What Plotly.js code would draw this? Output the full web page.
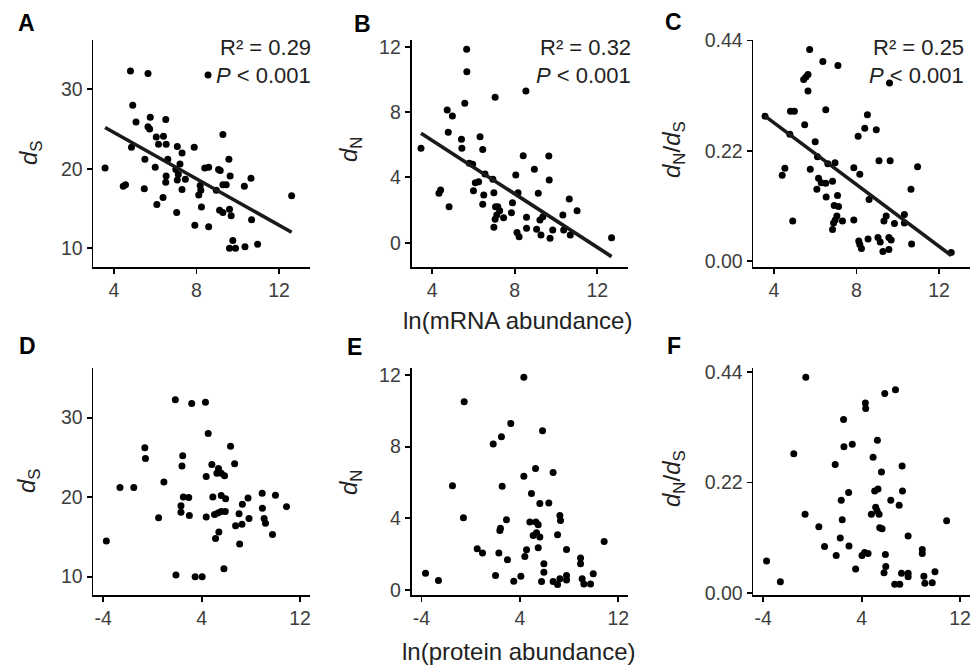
<!DOCTYPE html>
<html>
<head>
<meta charset="utf-8">
<script src="https://cdn.plot.ly/plotly-3.0.1.min.js"></script>
<style>html,body{margin:0;padding:0;background:#fff;}#chart{width:976px;height:669px;}</style>
</head>
<body>
<div id="chart"></div>
<script>
// ---- Panel A: ln(mRNA abundance) vs dS ----
const aX = [4.8,5.65,8.56,4.91,5.07,5.76,6.51,5.65,5.73,4.85,6.05,6.4,6.16,6.53,7.07,7.3,7.89,9.28,3.57,5.5,6.0,6.61,7.2,7.0,6.53,6.51,7.07,7.46,7.3,7.12,4.45,4.56,5.47,6.08,6.38,7.04,8.4,8.59,8.18,8.21,8.11,8.24,7.92,8.59,9.07,9.15,8.96,9.28,9.44,9.57,9.63,9.12,9.28,9.6,9.68,10.32,10.64,10.67,9.76,9.6,9.89,10.35,10.96,12.61];
const aY = [32.3,32.0,31.8,28.0,25.9,26.5,26.2,25.3,25.0,22.7,24.0,24.1,23.1,23.1,22.8,22.0,22.7,24.3,20.1,21.2,20.2,21.2,20.6,19.9,19.1,18.3,18.6,18.7,17.4,19.3,17.8,18.0,17.5,15.5,16.4,14.5,20.1,20.2,17.9,17.3,16.7,15.2,12.9,12.7,19.9,19.8,17.3,18.0,18.0,21.2,19.1,14.8,14.5,14.9,14.1,17.8,18.8,13.6,11.0,10.0,10.0,10.2,10.5,16.6];

// ---- Panel B: ln(mRNA abundance) vs dN ----
const bX = [3.46,5.67,5.68,5.58,7.05,8.54,4.73,4.98,4.78,5.42,5.44,6.32,6.45,5.8,5.96,6.09,6.25,6.0,6.5,6.45,6.56,4.33,4.41,4.82,6.94,6.99,7.07,7.18,7.27,7.13,7.05,7.46,6.99,7.89,7.84,8.05,8.16,8.41,8.11,8.21,8.57,8.57,8.95,9.14,9.65,9.67,9.06,9.22,9.36,9.27,9.71,9.84,10.37,10.33,10.69,10.64,11.02,12.69];
const bY = [5.78,11.84,10.47,8.53,8.9,9.29,8.12,7.76,6.76,6.33,5.78,6.49,5.71,4.86,4.8,3.67,3.73,3.18,2.92,2.35,4.2,3.02,3.22,2.2,3.88,3.06,2.2,2.2,1.96,1.7,1.43,1.53,0.94,2.45,1.84,4.14,3.06,5.33,0.63,0.37,1.55,0.88,4.49,3.02,5.31,3.84,0.82,1.39,1.59,0.47,0.27,0.78,0.78,1.7,0.47,2.67,1.96,0.31];

// ---- Panel C: ln(mRNA abundance) vs dN/dS ----
const cX = [5.73,6.37,7.1,5.65,5.55,5.44,5.65,9.6,4.8,4.99,3.57,6.51,5.49,4.77,6.0,8.53,8.4,8.08,8.96,4.53,4.4,5.76,6.11,6.61,6.96,7.87,8.16,9.09,9.63,10.96,6.16,6.29,6.51,6.08,6.53,6.84,7.08,6.92,7.13,7.05,6.97,7.32,6.89,6.84,7.87,4.91,8.61,9.44,9.33,9.84,10.32,10.32,10.64,8.11,8.16,8.24,8.56,9.04,9.15,9.57,9.68,9.28,9.57,10.67,12.59];
const cY = [0.422,0.398,0.39,0.372,0.367,0.362,0.339,0.355,0.299,0.299,0.289,0.302,0.272,0.253,0.238,0.292,0.265,0.249,0.262,0.185,0.171,0.183,0.208,0.194,0.196,0.186,0.173,0.2,0.2,0.188,0.165,0.156,0.155,0.143,0.128,0.159,0.131,0.111,0.109,0.09,0.082,0.08,0.076,0.063,0.082,0.08,0.123,0.09,0.08,0.075,0.093,0.076,0.143,0.04,0.033,0.025,0.044,0.047,0.038,0.047,0.042,0.019,0.023,0.034,0.017];

// ---- Panel D: ln(protein abundance) vs dS ----
const dX = [-3.75,-2.64,-1.52,-0.62,-0.57,0.93,0.5,1.86,3.19,4.31,4.53,2.46,2.4,2.51,2.95,2.32,2.32,3.0,1.91,3.47,4.04,4.37,4.83,5.37,5.59,5.86,5.24,6.35,6.68,4.91,5.59,5.95,4.37,5.05,5.32,5.59,5.92,5.4,5.13,5.81,6.76,7.28,7.04,7.31,7.77,7.85,7.09,8.92,8.94,9.08,9.19,10.0,9.76,10.9];
const dY = [14.48,21.2,21.2,26.2,24.85,21.9,17.4,32.26,31.76,31.92,28.0,25.2,23.9,20.0,19.96,18.9,18.1,17.7,10.2,10.0,10.0,22.6,24.1,23.6,23.0,22.7,23.0,26.4,24.2,20.0,20.2,19.8,17.5,17.8,18.0,18.2,18.2,15.6,14.8,11.0,16.4,16.6,17.9,19.1,19.9,17.3,14.1,20.5,18.6,17.3,16.7,20.25,15.3,18.8];

// ---- Panel E: ln(protein abundance) vs dN ----
const eX = [-3.67,-2.62,-1.48,-0.53,-0.59,0.53,0.96,1.83,2.5,3.26,2.56,2.37,2.42,2.29,2.02,2.91,2.99,3.5,4.08,4.32,4.32,4.54,4.4,5.27,4.94,4.81,5.3,5.49,5.08,5.35,5.62,5.49,5.62,5.84,6.35,5.95,5.95,5.76,6.7,7.06,7.25,7.3,7.79,6.7,7.06,7.25,7.79,7.79,8.93,8.93,9.06,9.2,9.74,9.96,10.85];
const eY = [0.94,0.53,5.81,10.51,4.03,2.3,2.06,8.14,8.55,9.29,5.79,3.32,3.45,2.07,0.81,3.92,1.68,0.49,0.77,11.87,6.35,2.24,1.87,6.78,5.38,3.79,3.79,3.64,3.04,3.19,2.95,2.35,4.82,8.88,4.85,1.46,0.99,0.47,6.55,3.08,4.16,3.88,2.26,0.47,0.3,0.62,0.81,0.56,1.79,1.46,0.62,0.34,0.34,0.9,2.71];

// ---- Panel F: ln(protein abundance) vs dN/dS ----
const fX = [-3.73,-2.61,-1.52,-0.54,-0.6,0.52,0.98,1.85,1.93,2.53,2.56,3.24,2.34,2.94,2.42,2.26,2.97,3.51,4.3,4.33,4.03,4.24,4.52,4.93,5.28,5.06,5.33,5.14,5.25,4.79,5.42,5.47,5.66,5.61,5.88,6.75,5.93,5.96,5.82,6.37,7.05,7.29,7.32,6.69,7.1,7.24,7.78,7.78,7.78,8.93,8.93,9.06,9.14,9.74,9.96,10.91];
const fY = [0.064,0.023,0.277,0.429,0.157,0.132,0.093,0.256,0.075,0.345,0.291,0.296,0.185,0.2,0.146,0.11,0.094,0.048,0.378,0.367,0.075,0.081,0.079,0.27,0.304,0.203,0.207,0.171,0.164,0.157,0.157,0.13,0.128,0.241,0.397,0.404,0.077,0.053,0.041,0.185,0.175,0.253,0.203,0.018,0.018,0.04,0.04,0.033,0.114,0.087,0.079,0.034,0.02,0.021,0.043,0.144];

// ---- Linear fits (panels A, B, C) ----
const fitSlope = [-1.457, -0.819, -0.03081];
const fitIntercept = [30.40, 9.54, 0.399];

// ---- Text ----
const panelLetters = ['A','B','C','D','E','F'];
const r2Labels = ['R\u00B2 = 0.29', 'R\u00B2 = 0.32', 'R\u00B2 = 0.25'];
const pLabels = ['<i>P</i> < 0.001', '<i>P</i> < 0.001', '<i>P</i> < 0.001'];
const yTitles = ['<i>d</i><sub>S</sub>', '<i>d</i><sub>N</sub>', '<i>d</i><sub>N</sub>/<i>d</i><sub>S</sub>'];
const xTitleTop = 'ln(mRNA abundance)';
const xTitleBottom = 'ln(protein abundance)';
const xTicksTop = [4, 8, 12];
const xTicksBottom = [-4, 4, 12];
const dsTicks = [10, 20, 30];
const dnTicks = [0, 4, 8, 12];
const ratioTicks = [0, 0.22, 0.44];
const ratioTickText = ['0.00', '0.22', '0.44'];

// ---- Layout geometry (pixels) ----
const W = 976, H = 669;
const px = v => v / W;
const py = v => 1 - v / H;
const cols = [[93.3, 310], [411.5, 628.3], [753.3, 970]];
const rows = [[40, 266.7], [368.3, 595]];

const FONT = 'Liberation Sans, Arial, sans-serif';
const tickFont = {family: FONT, size: 19.5, color: '#3d3d3d'};

const panels = [
  {x: aX, y: aY, row: 0, col: 0, xr: [3.0, 13.5], yr: [7.69, 36.2], yt: dsTicks, ytt: null, xt: xTicksTop, fit: 0},
  {x: bX, y: bY, row: 0, col: 1, xr: [3.0, 13.5], yr: [-1.47, 12.41], yt: dnTicks, ytt: null, xt: xTicksTop, fit: 1},
  {x: cX, y: cY, row: 0, col: 2, xr: [3.0, 13.5], yr: [-0.0113, 0.441], yt: ratioTicks, ytt: ratioTickText, xt: xTicksTop, fit: 2},
  {x: dX, y: dY, row: 1, col: 0, xr: [-4.81, 12.81], yr: [7.69, 36.2], yt: dsTicks, ytt: null, xt: xTicksBottom, fit: -1},
  {x: eX, y: eY, row: 1, col: 1, xr: [-4.81, 12.81], yr: [-0.28, 12.37], yt: dnTicks, ytt: null, xt: xTicksBottom, fit: -1},
  {x: fX, y: fY, row: 1, col: 2, xr: [-4.81, 12.81], yr: [-0.0034, 0.4468], yt: ratioTicks, ytt: ratioTickText, xt: xTicksBottom, fit: -1}
];

const traces = [];
const layout = {
  width: W, height: H,
  margin: {l: 0, r: 0, t: 0, b: 0, pad: 0},
  paper_bgcolor: '#fff', plot_bgcolor: '#fff',
  showlegend: false,
  font: {family: FONT, color: '#000'},
  annotations: []
};

panels.forEach((p, i) => {
  const n = i + 1;
  const xa = n === 1 ? 'x' : 'x' + n;
  const ya = n === 1 ? 'y' : 'y' + n;
  traces.push({
    type: 'scatter', mode: 'markers', x: p.x, y: p.y,
    xaxis: xa, yaxis: ya,
    marker: {color: '#000', size: 7, line: {width: 0}},
    hoverinfo: 'skip', cliponaxis: false
  });
  if (p.fit >= 0) {
    const xmin = Math.min(...p.x), xmax = Math.max(...p.x);
    const s = fitSlope[p.fit], b = fitIntercept[p.fit];
    traces.push({
      type: 'scatter', mode: 'lines', x: [xmin, xmax], y: [b + s * xmin, b + s * xmax],
      xaxis: xa, yaxis: ya,
      line: {color: '#1a1a1a', width: 3.6},
      hoverinfo: 'skip'
    });
  }
  const c = cols[p.col], r = rows[p.row];
  const axCommon = {
    showline: true, linecolor: '#000', linewidth: 1.8,
    ticks: 'outside', ticklen: 5, tickwidth: 1.8, tickcolor: '#000',
    showgrid: false, zeroline: false, tickfont: tickFont, fixedrange: true
  };
  layout['xaxis' + (n === 1 ? '' : n)] = Object.assign({}, axCommon, {
    domain: [px(c[0]), px(c[1])], anchor: ya, range: p.xr,
    tickmode: 'array', tickvals: p.xt, ticktext: p.xt.map(v => String(v).replace('-', '-'))
  });
  const yax = Object.assign({}, axCommon, {
    domain: [py(r[1]), py(r[0])], anchor: xa, range: p.yr,
    tickmode: 'array', tickvals: p.yt
  });
  if (p.ytt) yax.ticktext = p.ytt;
  layout['yaxis' + (n === 1 ? '' : n)] = yax;
});

// panel letters
const letterPos = [[26, 23], [362, 24], [673, 22], [27, 346], [354, 347], [674, 346]];
panelLetters.forEach((L, i) => {
  layout.annotations.push({
    text: '<b>' + L + '</b>', xref: 'paper', yref: 'paper',
    x: px(letterPos[i][0]), y: py(letterPos[i][1]), xanchor: 'center', yanchor: 'middle',
    showarrow: false, font: {family: FONT, size: 23, color: '#000'}
  });
});

// R2 and P labels
const statRight = [313, 633, 966];
r2Labels.forEach((t, i) => {
  layout.annotations.push({
    text: t, xref: 'paper', yref: 'paper', x: px(statRight[i]), y: py(48),
    xanchor: 'right', yanchor: 'middle', showarrow: false,
    font: {family: FONT, size: 22, color: '#222'}
  });
  layout.annotations.push({
    text: pLabels[i], xref: 'paper', yref: 'paper', x: px(statRight[i]), y: py(75),
    xanchor: 'right', yanchor: 'middle', showarrow: false,
    font: {family: FONT, size: 22, color: '#222'}
  });
});

// y axis titles
const yTitlePos = [[30, 153, 0], [350, 150, 1], [673, 150, 2], [28, 481, 0], [350, 483, 1], [673, 479, 2]];
yTitlePos.forEach(([x, y, k]) => {
  layout.annotations.push({
    text: yTitles[k], xref: 'paper', yref: 'paper', x: px(x), y: py(y),
    xanchor: 'center', yanchor: 'middle', textangle: -90, showarrow: false,
    font: {family: FONT, size: 24, color: '#222'}
  });
});

// x axis titles
layout.annotations.push({
  text: xTitleTop, xref: 'paper', yref: 'paper', x: px(517), y: py(320),
  xanchor: 'center', yanchor: 'middle', showarrow: false,
  font: {family: FONT, size: 24, color: '#222'}
});
layout.annotations.push({
  text: xTitleBottom, xref: 'paper', yref: 'paper', x: px(519), y: py(651),
  xanchor: 'center', yanchor: 'middle', showarrow: false,
  font: {family: FONT, size: 24, color: '#222'}
});

Plotly.newPlot('chart', traces, layout, {staticPlot: true, displayModeBar: false});
</script>
</body>
</html>
